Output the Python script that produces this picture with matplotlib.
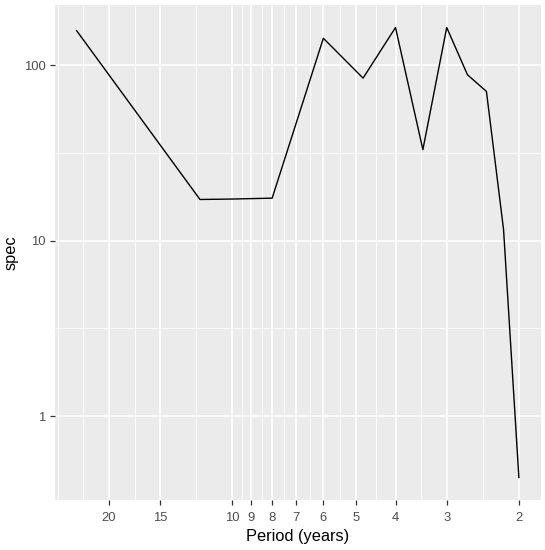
import numpy as np
import matplotlib
matplotlib.use("Agg")
import matplotlib.pyplot as plt
from matplotlib.ticker import NullFormatter

# periods (years) and spectrum values
period = [24, 12, 10, 8, 6, 4.8, 4, 3.43, 3, 2.67, 2.4, 2.18, 2]
spec = [158, 17.2, 17.3, 17.5, 143, 84.7, 164.7, 33.1, 164.7, 88.5, 71.1, 11.6, 0.446]

xbreaks = [20, 15, 10, 9, 8, 7, 6, 5, 4, 3, 2]
ybreaks = [1, 10, 100]
ylabels = ["1", "10", "100"]

plt.rcParams['font.family'] = ['Liberation Sans', 'DejaVu Sans']

W, H = 545, 550
fig = plt.figure(figsize=(W / 100, H / 100), dpi=100)
left, right, top, bottom = 54.5, 541, 5, 500
ax = fig.add_axes([left / W, 1 - bottom / H, (right - left) / W, (bottom - top) / H])
ax.set_facecolor('#EBEBEB')
for s in ax.spines.values():
    s.set_visible(False)

ax.plot(period, spec, color='black', lw=1.0, zorder=3)

ax.set_xscale('log')
ax.set_yscale('log')

# ggplot style 5% expansion in log space
lx = np.log10(period)
ly = np.log10(spec)
ex = 0.05 * (lx.max() - lx.min())
ey = 0.05 * (ly.max() - ly.min())

# minor breaks: midpoints in log space, with one extension at each end
def minor_breaks(b):
    lb = np.log10(b)
    d = np.diff(lb)
    ext = np.concatenate([[lb[0] - d[0]], lb, [lb[-1] + d[-1]]])
    mids = (ext[:-1] + ext[1:]) / 2
    return 10 ** np.concatenate([[ext[0]], mids, [ext[-1]]])

ax.set_xticks(xbreaks)
ax.set_xticklabels([str(b) for b in xbreaks])
ax.set_xticks(minor_breaks(xbreaks), minor=True)
ax.set_yticks(ybreaks)
ax.set_yticklabels(ylabels)
ax.set_yticks(minor_breaks(ybreaks), minor=True)
ax.xaxis.set_minor_formatter(NullFormatter())
ax.yaxis.set_minor_formatter(NullFormatter())
ax.set_xlim(10 ** (lx.max() + ex), 10 ** (lx.min() - ex))
ax.set_ylim(10 ** (ly.min() - ey), 10 ** (ly.max() + ey))

ax.grid(which='major', color='white', lw=1.1)
ax.grid(which='minor', color='white', lw=0.55)
ax.set_axisbelow(True)

ax.tick_params(which='major', length=3.5, width=0.9, color='#333333',
               labelsize=9.4, labelcolor='#4D4D4D')
ax.tick_params(axis='x', which='major', pad=5)
ax.tick_params(axis='y', which='major', pad=3)
ax.tick_params(which='minor', length=0)

ax.set_xlabel('Period (years)', fontsize=11.8, color='black', labelpad=4)
ax.set_ylabel('spec', fontsize=11.8, color='black', labelpad=4)

fig.savefig('out.png', dpi=100)
